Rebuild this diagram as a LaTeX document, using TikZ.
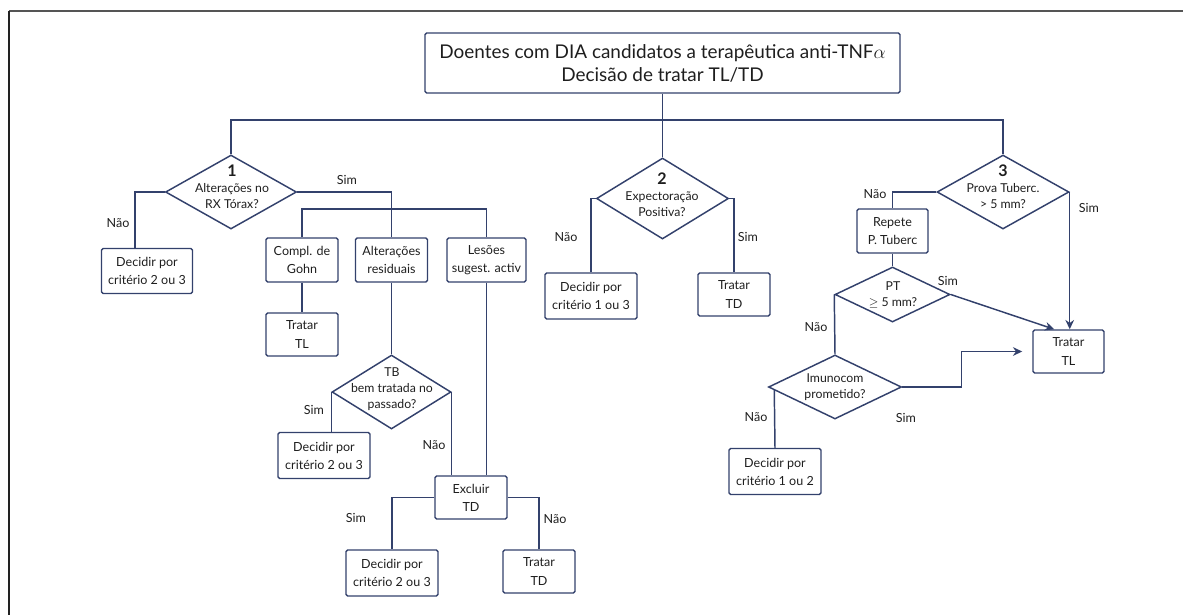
\documentclass[tikz,border=0pt]{standalone}
\usepackage{fontspec}
\setmainfont{Lato}
\usetikzlibrary{shapes.geometric,arrows.meta,calc}
\definecolor{ln}{HTML}{33416C}
\definecolor{tx}{HTML}{1E1E1E}
\definecolor{frt}{HTML}{555555}
\definecolor{frl}{HTML}{222222}
\newcommand\bxfont{\fontsize{9.4}{13.6}\selectfont}
\newcommand\dgfont{\fontsize{9.2}{12}\selectfont}
\newcommand\mnfont{\fontsize{14.2}{17.3}\selectfont}
\begin{document}
\begin{tikzpicture}[x=0.75pt,y=-0.75pt,
  every node/.style={text=tx},
  bx/.style 2 args={draw=ln, line width=1.1pt, rounded corners=1.2pt, align=center, inner sep=0pt, minimum width=#1*0.75pt, minimum height=#2*0.75pt, font=\bxfont},
  dia/.style 2 args={diamond, draw=ln, line width=1.1pt, inner sep=0pt, minimum width=#1*0.75pt, minimum height=#2*0.75pt},
  con/.style={draw=ln, line width=1.1pt},
  arr/.style={con, -{Stealth[length=7pt,width=6.5pt]}},
  lbl/.style={font=\bxfont, inner sep=0pt},
  dtxt/.style={font=\dgfont, inner sep=0pt, align=center}]
\useasboundingbox (0,0) rectangle (1183,615);
% frame
\coordinate (fTL) at (9,11);
\coordinate (fTR) at (1183,11);
\coordinate (fBL) at (9,615);
\draw[frt, line width=1.5pt] (fTL) -- (fTR);
\draw[frl, line width=1.1pt] (fTL) -- (fBL);
% main box
\node[bx={475}{60}, font=\mnfont] (main) at (662.5,63) {Doentes com DIA candidatos a terapêutica anti-TNF$\alpha$\\Decisão de tratar TL/TD};
% diamonds
\node[dia={131}{74}] (d1) at (231,192) {};
\node[dia={132}{81}] (d2) at (662.5,198.5) {};
\node[dia={132}{74}] (d3) at (1003,192) {};
\node[dia={119}{74}] (dtb) at (391.5,392) {};
\node[dia={115}{55}] (dpt) at (892.5,294.5) {};
\node[dia={133}{64}] (dimu) at (835,387) {};
% diamond texts
\node[dtxt] (t1) at (232,187) {\textbf{\large 1}\\Alterações no\\RX Tórax?};
\node[dtxt] (t2) at (662,195) {\textbf{\large 2}\\Expectoração\\Positiva?};
\node[dtxt] (t3) at (1003,187) {\textbf{\large 3}\\Prova Tuberc.\\> 5 mm?};
\node[dtxt] (ttb) at (392,389) {TB\\bem tratada no\\passado?};
\node[dtxt] (tpt) at (893,295) {PT\\$\geq$ 5 mm?};
\node[dtxt] (timu) at (835,387) {Imunocom\\prometido?};
% boxes
\node[bx={91}{45}] (b1L) at (147,271) {Decidir por\\critério 2 ou 3};
\node[bx={72}{44}] (gohn) at (302,260) {Compl. de\\Gohn};
\node[bx={72}{44}] (resid) at (391.5,260) {Alterações\\residuais};
\node[bx={79}{44}] (lesoes) at (486.5,260) {Lesões\\sugest. activ};
\node[bx={72}{43}] (tl1) at (302,334.5) {Tratar\\TL};
\node[bx={92}{46}] (decB) at (324,455.5) {Decidir por\\critério 2 ou 3};
\node[bx={72}{43}] (exc) at (471,497.5) {Excluir\\TD};
\node[bx={92}{46}] (decC) at (392,573) {Decidir por\\critério 2 ou 3};
\node[bx={72}{43}] (td1) at (539,571.5) {Tratar\\TD};
\node[bx={92}{46}] (dec2) at (591,296) {Decidir por\\critério 1 ou 3};
\node[bx={72}{43}] (td2) at (734,294.5) {Tratar\\TD};
\node[bx={71}{44}] (rep) at (892.5,231) {Repete\\P. Tuberc};
\node[bx={71}{43}] (tl2) at (1068.5,351.5) {Tratar\\TL};
\node[bx={92}{46}] (dec3) at (775,471.5) {Decidir por\\critério 1 ou 2};
% connectors
\coordinate (bar) at (0,120);
\coordinate (bar2) at (0,209);
\draw[con] (main.south) -- (main.south |- bar);
\draw[con] (d1.north) -- (d1.north |- bar) -- (d3.north |- bar) -- (d3.north);
\draw[con] (d2.north) -- (d2.north |- bar);
\draw[con] (d1.west) -| ($(b1L.north)+(-12,0)$);
\draw[con] (d1.east) -| (resid.north);
\draw[con] (gohn.north) -- (gohn.north |- bar2) -- (lesoes.north |- bar2) -- (lesoes.north);
\draw[con] (gohn.south) -- (tl1.north);
\draw[con] (resid.south) -- (dtb.north);
\draw[con] (dtb.west) -- (dtb.west |- decB.north);
\draw[con] (dtb.east) -- (dtb.east |- exc.north);
\draw[con] (lesoes.south) -- (lesoes.south |- exc.north);
\draw[con] (exc.west) -| (decC.north);
\draw[con] (exc.east) -| (td1.north);
\draw[con] (d2.west) -| (dec2.north);
\draw[con] (d2.east) -| (td2.north);
\draw[con] (d3.west) -| (rep.north);
\draw[arr] (d3.east) -- (d3.east |- tl2.north);
\draw[con] (rep.south) -- (dpt.north);
\draw[arr] (dpt.east) -- ($(tl2.north west)+(22,0)$);
\draw[con] (dpt.west) -- (dimu.north);
\draw[arr] (dimu.east) -- ++(59,0) |- ($(tl2.west)+(-10,0)$);
\draw[con] ($(dimu.west)+(6.5,3)$) -- (dec3.north);
% labels
\node[lbl] (l1) at (118,223) {Não};
\node[lbl] (l2) at (347,180) {Sim};
\node[lbl] (l3) at (314,410) {Sim};
\node[lbl] (l4) at (434,445) {Não};
\node[lbl] (l5) at (356,518) {Sim};
\node[lbl] (l6) at (555,519) {Não};
\node[lbl] (l7) at (566,237) {Não};
\node[lbl] (l8) at (748,237) {Sim};
\node[lbl] (l9) at (875,194) {Não};
\node[lbl] (l10) at (1089,208) {Sim};
\node[lbl] (l11) at (948,281) {Sim};
\node[lbl] (l12) at (816,327) {Não};
\node[lbl] (l13) at (906,418) {Sim};
\node[lbl] (l14) at (756,417) {Não};
\end{tikzpicture}
\end{document}
